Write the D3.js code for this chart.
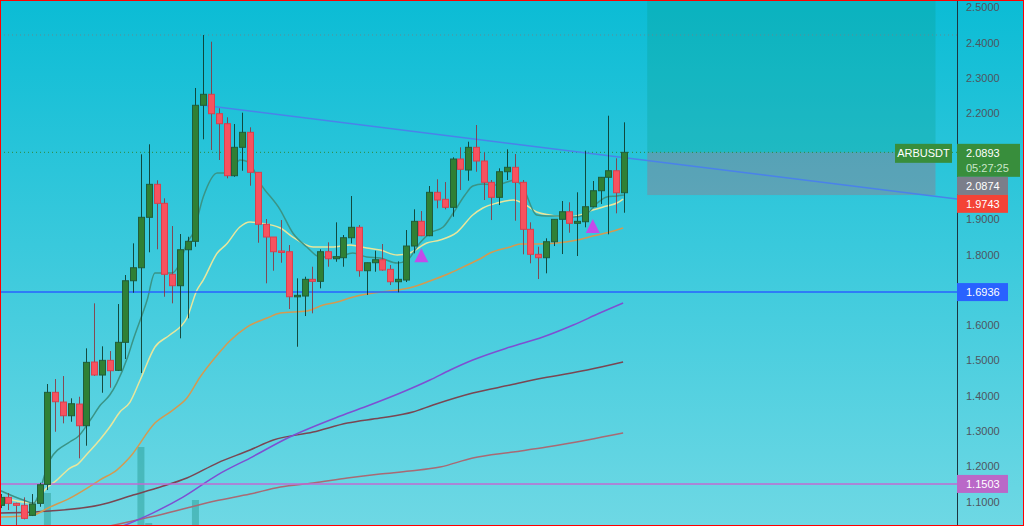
<!DOCTYPE html>
<html>
<head>
<meta charset="utf-8">
<script src="https://cdn.jsdelivr.net/npm/d3@7/dist/d3.min.js"></script>
<style>
html,body{margin:0;padding:0;overflow:hidden;background:#fff;}
svg{display:block;font-family:"Liberation Sans",Arial,sans-serif;}
</style>
</head>
<body>
<div id="main_chart"></div>
<script>
var symbolName = "ARBUSDT";
var countdownStr = "05:27:25";

// OHLC of each visible candle, left to right
var candleOpen = [1.0897,1.1123,1.0953,1.0897,1.0613,1.0953,1.1491,1.4097,1.3822,1.3434,
  1.3765,1.3151,1.4955,1.4587,1.5003,1.4720,1.5513,1.7257,1.7625,1.9053,
  1.9987,1.9449,1.7439,1.7116,1.8135,1.8373,2.2225,2.2536,2.1987,2.1704,
  2.0231,2.1035,2.1460,2.0327,1.8855,1.8495,1.8099,1.8079,1.6804,1.6824,
  1.7297,1.7240,1.8079,1.7880,1.7909,1.8475,1.8770,1.7541,1.7767,1.7852,
  1.7580,1.7229,1.7277,1.8240,1.8939,1.8532,1.9761,1.9563,1.9336,2.0704,
  2.0392,2.1035,2.0647,2.0044,1.9619,2.0344,2.0469,2.0044,1.8713,1.8005,
  1.7909,1.8362,1.8996,1.9211,1.8883,1.8928,1.9353,1.9806,2.0186,2.0372,
  1.9749];
var candleHigh = [1.1217,1.1245,1.0970,1.1123,1.1217,1.1537,1.4332,1.4473,1.4558,1.3927,
  1.3972,1.5343,1.6617,1.5400,1.5266,1.6597,1.7419,1.8316,2.0837,2.1120,
  2.0101,1.9591,1.8806,1.8580,1.8503,2.2715,2.4216,2.4026,2.2140,2.1885,
  2.1695,2.2015,2.1602,2.0327,1.9005,1.8495,1.8976,1.8268,1.7325,1.7371,
  1.7654,1.8147,1.8345,1.8911,1.8552,1.9656,1.8835,1.7767,1.8107,1.8297,
  1.7702,1.7807,1.8693,1.9279,1.9231,1.9939,2.0129,2.0052,2.0752,2.1035,
  2.1194,2.1667,2.0894,2.0109,2.0440,2.0978,2.0845,2.0109,1.8911,1.8220,
  1.8458,1.8996,1.9514,1.9478,1.9761,2.0939,2.0081,2.0186,2.1930,2.0724,
  2.1743];
var candleLow = [1.0820,1.0764,1.0339,1.0500,1.0594,1.0857,1.1330,1.2981,1.3219,1.3264,
  1.2228,1.2585,1.4560,1.4085,1.4227,1.4700,1.5040,1.6917,1.4643,1.8062,
  1.8147,1.6804,1.6617,1.5626,1.6192,1.8220,2.1262,2.0959,2.0676,2.0157,
  2.0200,2.0372,1.9948,1.8333,1.7184,1.7541,1.7767,1.6456,1.5388,1.6258,
  1.6334,1.7042,1.7654,1.7795,1.7654,1.8316,1.7371,1.6852,1.7512,1.7540,
  1.7135,1.6929,1.7220,1.8033,1.8520,1.8520,1.9308,1.9279,1.9070,1.9826,
  2.0089,2.0344,1.9543,1.8976,1.9401,2.0109,1.8956,1.8005,1.7750,1.7305,
  1.7467,1.8240,1.8013,1.8617,1.7957,1.8770,1.9340,1.9429,1.8571,1.9166,
  1.9183];
var candleClose = [1.1123,1.0953,1.0897,1.0528,1.0934,1.1480,1.4097,1.3831,1.3434,1.3774,
  1.3151,1.4946,1.4587,1.5003,1.4709,1.5513,1.7257,1.7625,1.9053,1.9987,
  1.9449,1.7439,1.7116,1.8135,1.8373,2.2225,2.2536,2.1987,2.1704,2.0231,
  2.1035,2.1460,2.0327,1.8855,1.8495,1.8079,1.8079,1.6804,1.6844,1.7297,
  1.7240,1.8079,1.7880,1.7937,1.8475,1.8770,1.7541,1.7767,1.7852,1.7560,
  1.7229,1.7297,1.8240,1.8939,1.8532,1.9761,1.9543,1.9336,2.0704,2.0412,
  2.1035,2.0647,2.0044,1.9619,2.0344,2.0469,2.0044,1.8713,1.8005,1.7909,
  1.8362,1.8996,1.9211,1.8883,1.8939,1.9353,1.9806,2.0186,2.0372,1.9749,
  2.0893];

// volume bars that reach into the view (bar index, volume in M)
var volIdx = [6, 18, 19, 25];
var volVal = [52, 98, 22, 45];

// moving averages: [bar index, price]
var maFast = [[0,1.1310],[2.9,1.1047],[4.2,1.0962],[6.3,1.2179],[8.9,1.2698],[9.9,1.2839],[11.5,1.3312],
  [12.8,1.3737],[14,1.4020],[14.9,1.4360],[16.3,1.5096],[17,1.5578],[18.8,1.6711],[19.8,1.7475],
  [20.8,1.7475],[22,1.7475],[23,1.7759],[23.9,1.8325],[24.7,1.8608],[26,1.9628],[27.8,2.0307],
  [29.4,2.0307],[30.7,2.0676],[31.8,2.0619],[33.3,2.0024],[35.9,1.9259],[37.5,1.8608],[39.3,1.8212],
  [41,1.7928],[43.2,1.7928],[45.2,1.8042],[47,1.7928],[48.7,1.7900],[50.9,1.7759],[52.2,1.7843],
  [53.8,1.8325],[55.1,1.8608],[56.8,1.8778],[58.1,1.9175],[59.6,1.9684],[60.6,1.9939],[61.9,1.9996],
  [63.7,1.9967],[65,2.0052],[66,2.0109],[67,1.9911],[68.8,1.9118],[70.1,1.9090],[71.8,1.9090],
  [73.5,1.9061],[75,1.9118],[76.6,1.9458],[77.8,1.9628],[79.1,1.9656],[80,1.9684]];
var maMid = [[0,1.1131],[4.1,1.0962],[5.9,1.1386],[7.2,1.1613],[8.9,1.1953],[9.9,1.2066],[11.2,1.2378],
  [12.7,1.2746],[14,1.3114],[15.3,1.3539],[16.6,1.3822],[17.9,1.4445],[19.8,1.5380],[21.7,1.5719],
  [23.9,1.6201],[25.2,1.6994],[26,1.7277],[27.8,1.8042],[29,1.8297],[30.7,1.8778],[32,1.8920],
  [33.3,1.8891],[35.9,1.8750],[37.5,1.8495],[40.1,1.8212],[42.7,1.8212],[44.8,1.8268],[47,1.8183],
  [48.7,1.8127],[50.9,1.7985],[52.5,1.8042],[54.7,1.8325],[56.4,1.8410],[58.6,1.8636],[60.6,1.9118],
  [61.9,1.9316],[63.7,1.9458],[65.8,1.9543],[67,1.9458],[68.8,1.9203],[70.5,1.9118],[72.7,1.9061],
  [74.4,1.9118],[76,1.9259],[77.8,1.9373],[79.1,1.9458],[79.9,1.9571]];
var maSlow = [[0,1.0565],[4.1,1.0622],[6.3,1.0848],[8.9,1.1103],[11.1,1.1386],[12.7,1.1613],[14.9,1.1896],
  [16.6,1.2264],[19.8,1.3227],[22.1,1.3595],[23.9,1.3935],[25.6,1.4530],[27.8,1.5153],[29.4,1.5549],
  [31.6,1.5946],[34.2,1.6201],[35.9,1.6342],[39.3,1.6399],[41.4,1.6569],[43.2,1.6654],[44.8,1.6767],
  [47,1.6880],[48.7,1.6937],[50.9,1.6994],[52.9,1.7079],[55.1,1.7249],[57.7,1.7475],[59.9,1.7702],
  [61.5,1.7872],[62.8,1.8042],[65.4,1.8212],[66.7,1.8297],[68.8,1.8297],[71.4,1.8325],[74,1.8410],
  [76,1.8523],[78.2,1.8636],[79.9,1.8750]];
var maPurple = [[15.7,1.0310],[19.5,1.0678],[23.4,1.1131],[27.8,1.1755],[32,1.2236],[37.1,1.2831],
  [43.6,1.3425],[47.4,1.3737],[51.3,1.4077],[55.1,1.4445],[57.7,1.4728],[60.6,1.5011],[65.4,1.5380],
  [69.6,1.5663],[73.5,1.6003],[76.9,1.6342],[79.9,1.6626]];
var maMaroon = [[0,1.0678],[6.3,1.0735],[12.7,1.0905],[17,1.1188],[20.5,1.1415],[23.9,1.1670],[27.8,1.2094],
  [32,1.2463],[35,1.2746],[40.1,1.2972],[44.5,1.3227],[48.7,1.3369],[52.9,1.3539],[55.5,1.3737],
  [60.6,1.4077],[65.4,1.4303],[69.6,1.4502],[75.3,1.4728],[79.9,1.4955]];
var maRosy = [[14,1.0310],[19.2,1.0565],[23.9,1.0820],[27.5,1.1018],[32,1.1217],[35.9,1.1415],[40.1,1.1528],
  [44.5,1.1670],[48.7,1.1783],[52.5,1.1868],[56.4,1.1981],[60.6,1.2236],[65.8,1.2406],[70.1,1.2547],
  [75.3,1.2746],[79.9,1.2944]];

// drawings
var trendIdx = [26, 80];
var trendVal = [2.2225, 2.0746];
var signalIdx = [54, 76];
var signalVal = [1.8175, 1.9005];
var supportLevel = 1.6936;
var lowLevel = 1.1503;
var highLevel = 2.4216;
var posIdx = [83, 120];
var posTarget = 2.62, posEntry = 2.0893, posStop = 1.9684;
var axisLabels = [2.0893, 2.0874, 1.9743];

var priceTicks = [2.5,2.4,2.3,2.2,2.1,2.0,1.9,1.8,1.7,1.6,1.5,1.4,1.3,1.2,1.1];

d3CandleChart("main_chart");

function d3CandleChart(divIdStr){
  var W = 1024, H = 526;
  var axisX = 957;

  var svg = d3.select("#"+divIdStr).append("svg")
      .attr("width", W).attr("height", H);

  var defs = svg.append("defs");
  var grad = defs.append("linearGradient").attr("id","bgGrad")
      .attr("x1",0).attr("y1",0).attr("x2",0).attr("y2",1);
  grad.append("stop").attr("offset","0%").attr("stop-color","#0bbcd5");
  grad.append("stop").attr("offset","100%").attr("stop-color","#6ed8e4");
  defs.append("clipPath").attr("id","plotClip").append("rect")
      .attr("x",0).attr("y",0).attr("width",axisX).attr("height",H);

  svg.append("rect").attr("width",W).attr("height",H).attr("fill","url(#bgGrad)");

  var x = d3.scaleLinear().domain([0, 80]).range([0.7, 623.9]);
  var y = d3.scaleLinear().domain([1.1, 2.5]).range([501.7, 7.3]);
  var yVol = d3.scaleLinear().domain([0, 100]).range([545, 445]);
  var bw = 6;

  var plot = svg.append("g").attr("clip-path","url(#plotClip)");

  // long position tool
  plot.append("rect").attr("x", x(posIdx[0])).attr("y", y(posTarget))
      .attr("width", x(posIdx[1]) - x(posIdx[0])).attr("height", y(posEntry) - y(posTarget))
      .attr("fill","rgba(8,153,129,0.25)");
  plot.append("rect").attr("x", x(posIdx[0])).attr("y", y(posEntry))
      .attr("width", x(posIdx[1]) - x(posIdx[0])).attr("height", y(posStop) - y(posEntry))
      .attr("fill","rgba(242,54,69,0.23)");

  // volume
  plot.selectAll(".vol").data(volIdx).enter().append("rect")
      .attr("class","vol")
      .attr("x", function(d){ return x(d) - bw/2 - 0.5; })
      .attr("y", function(d,i){ return yVol(volVal[i]); })
      .attr("width", bw + 1)
      .attr("height", function(d,i){ return yVol(0) - yVol(volVal[i]); })
      .attr("fill","rgba(38,150,140,0.45)");

  // dotted lines
  plot.append("line").attr("x1",0).attr("x2",axisX)
      .attr("y1", y(highLevel)).attr("y2", y(highLevel))
      .attr("stroke","#5f8c94").attr("stroke-dasharray","1,3");
  plot.append("line").attr("x1",0).attr("x2",axisX)
      .attr("y1", y(candleClose[80])).attr("y2", y(candleClose[80]))
      .attr("stroke","#2f8a3a").attr("stroke-dasharray","1,3");

  // moving averages
  var maLine = d3.line().x(function(d){ return x(d[0]); }).y(function(d){ return y(d[1]); })
      .curve(d3.curveMonotoneX);
  var maList = [
    {data: maRosy,   color: "#a86a74"},
    {data: maMaroon, color: "#7a4652"},
    {data: maPurple, color: "#7e4fd2"},
    {data: maSlow,   color: "#d49a50"},
    {data: maMid,    color: "#e8e69c"},
    {data: maFast,   color: "#3a9486"}
  ];
  maList.forEach(function(m){
    plot.append("path").attr("d", maLine(m.data))
        .attr("fill","none").attr("stroke", m.color).attr("stroke-width",1.5);
  });

  // horizontal levels
  plot.append("line").attr("x1",0).attr("x2",axisX)
      .attr("y1", y(supportLevel)).attr("y2", y(supportLevel))
      .attr("stroke","#2962ff").attr("stroke-width",1.5);
  plot.append("line").attr("x1",0).attr("x2",axisX)
      .attr("y1", y(lowLevel)).attr("y2", y(lowLevel))
      .attr("stroke","#c16ad2").attr("stroke-width",1.5);

  // trend line, extended right
  var slope = (trendVal[1] - trendVal[0]) / (trendIdx[1] - trendIdx[0]);
  var endIdx = x.invert(axisX);
  plot.append("line")
      .attr("x1", x(trendIdx[0])).attr("y1", y(trendVal[0]))
      .attr("x2", x(endIdx)).attr("y2", y(trendVal[0] + slope*(endIdx - trendIdx[0])))
      .attr("stroke","#4a82ea").attr("stroke-width",1.5);

  // candles
  var idx = d3.range(candleOpen.length);
  var cg = plot.append("g");
  cg.selectAll(".wick").data(idx).enter().append("line")
      .attr("class","wick")
      .attr("x1", function(i){ return Math.round(x(i)) + 0.5; })
      .attr("x2", function(i){ return Math.round(x(i)) + 0.5; })
      .attr("y1", function(i){ return y(candleHigh[i]); })
      .attr("y2", function(i){ return y(candleLow[i]); })
      .attr("stroke", function(i){ return candleClose[i] >= candleOpen[i] ? "rgba(12,50,35,0.85)" : "rgba(140,50,60,0.85)"; })
      .attr("stroke-width",1);
  cg.selectAll(".body").data(idx).enter().append("rect")
      .attr("class","body")
      .attr("x", function(i){ return Math.round(x(i)) - bw/2 + 0.5; })
      .attr("y", function(i){ return y(Math.max(candleOpen[i], candleClose[i])); })
      .attr("width", bw)
      .attr("height", function(i){ return Math.max(1.5, Math.abs(y(candleOpen[i]) - y(candleClose[i]))); })
      .attr("fill", function(i){ return candleClose[i] >= candleOpen[i] ? "#2f8035" : "#f7525f"; })
      .attr("stroke", function(i){ return candleClose[i] >= candleOpen[i] ? "#1f5e3a" : "#d8404e"; })
      .attr("stroke-width",1);

  // signal arrows
  plot.selectAll(".sig").data(signalIdx).enter().append("path")
      .attr("class","sig")
      .attr("d", function(d,i){
        var cx = x(d), cy = y(signalVal[i]);
        return "M"+cx+","+cy+"L"+(cx+7)+","+(cy+14)+"L"+(cx-7)+","+(cy+14)+"Z";
      })
      .attr("fill","#c24bea");

  // label boxes on the scale, stacked below the last price
  var top = y(axisLabels[0]) - 8.5;
  var busy = [[top, top+69], [y(supportLevel)-9, y(supportLevel)+9], [y(lowLevel)-9, y(lowLevel)+9]];
  var shownTicks = priceTicks.filter(function(t){
    var ty = y(t);
    return !busy.some(function(b){ return ty > b[0]-6 && ty < b[1]+6; });
  });

  // price axis
  svg.append("line").attr("x1",axisX+0.5).attr("x2",axisX+0.5).attr("y1",0).attr("y2",H)
      .attr("stroke","#1d3540").attr("stroke-width",1);
  var axisG = svg.append("g")
      .attr("class","d3RightAxis")
      .attr("transform","translate("+axisX+",0)")
      .call(d3.axisRight(y).tickValues(shownTicks).tickFormat(d3.format(".4f")).tickSize(0).tickPadding(9));
  axisG.select(".domain").remove();
  axisG.selectAll("text").attr("fill","#4e5560").style("font-size","11px")
      .style("font-family","'Liberation Sans',Arial,sans-serif");

  var boxG = svg.append("g").style("font-size","11px");
  boxG.append("rect").attr("x",895).attr("y",top).attr("width",57).attr("height",19).attr("fill","#388e3c");
  boxG.append("text").attr("x",923.5).attr("y",top+13.5).attr("text-anchor","middle")
      .attr("fill","#ffffff").text(symbolName);
  boxG.append("rect").attr("x",axisX).attr("y",top).attr("width",63).attr("height",33).attr("fill","#388e3c");
  boxG.append("text").attr("x",966).attr("y",top+13.5).attr("fill","#ffffff")
      .text(d3.format(".4f")(axisLabels[0]));
  boxG.append("text").attr("x",966).attr("y",top+28).attr("fill","#c8e6c9").text(countdownStr);
  boxG.append("rect").attr("x",axisX).attr("y",top+33).attr("width",51).attr("height",18).attr("fill","#7b7e8a");
  boxG.append("text").attr("x",966).attr("y",top+46).attr("fill","#ffffff")
      .text(d3.format(".4f")(axisLabels[1]));
  boxG.append("rect").attr("x",axisX).attr("y",top+51).attr("width",51).attr("height",18).attr("fill","#f44336");
  boxG.append("text").attr("x",966).attr("y",top+64).attr("fill","#ffffff")
      .text(d3.format(".4f")(axisLabels[2]));

  [[supportLevel,"#2962ff"],[lowLevel,"#ba68c8"]].forEach(function(l){
    boxG.append("rect").attr("x",axisX).attr("y",y(l[0])-9).attr("width",51).attr("height",18).attr("fill",l[1]);
    boxG.append("text").attr("x",966).attr("y",y(l[0])+4).attr("fill","#ffffff")
        .text(d3.format(".4f")(l[0]));
  });

  // frame
  svg.append("rect").attr("x",0.5).attr("y",0.5).attr("width",W-1).attr("height",H-1)
      .attr("fill","none").attr("stroke","#ff0000").attr("stroke-width",1);
}
</script>
</body>
</html>
